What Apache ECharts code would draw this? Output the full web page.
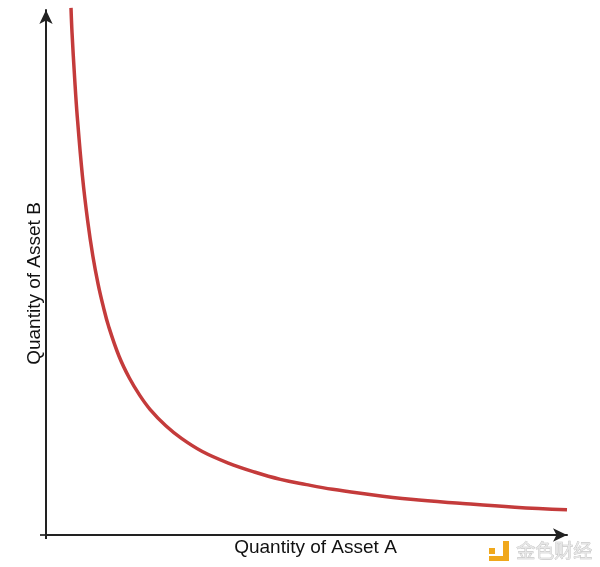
<!DOCTYPE html>
<html>
<head>
<meta charset="utf-8">
<script src="https://cdn.jsdelivr.net/npm/echarts@6/dist/echarts.min.js"></script>
<style>html,body{margin:0;padding:0;background:#fff;overflow:hidden}#c{width:600px;height:567px}</style>
</head>
<body>
<div id="c"></div>
<script>
// Quantity of asset A (x, 0..100) vs quantity of asset B (y, 0..100)
const assetA = [4.8, 5.0, 5.5, 6, 7, 8, 9, 10, 11, 12, 14, 16, 18, 20, 23, 26, 30, 35, 40, 45, 50, 55, 60, 70, 80, 90, 100];
const assetB = [100.4, 95.6, 87, 79.7, 68.3, 59.8, 53.1, 47.8, 43.5, 39.8, 34.1, 29.9, 26.6, 23.9, 20.8, 18.4, 15.9, 13.7, 12.0, 10.6, 9.6, 8.7, 8.0, 6.8, 6.0, 5.3, 4.8];
const xName = 'Quantity of Asset A';
const yName = 'Quantity of Asset B';
const watermark = '金色财经';

const chart = echarts.init(document.getElementById('c'));
const axisLine = {
  show: true,
  symbol: ['none', 'arrow'],
  symbolSize: [10, 14],
  lineStyle: { color: '#222', width: 2 }
};
chart.setOption({
  animation: false,
  backgroundColor: '#fff',
  grid: { left: 46, right: 33, top: 10, bottom: 32 },
  xAxis: {
    type: 'value', min: 0, max: 100,
    axisLine: axisLine, axisTick: { show: false }, axisLabel: { show: false }, splitLine: { show: false },
    name: xName, nameLocation: 'middle', nameGap: 3,
    nameTextStyle: { fontFamily: 'Liberation Sans, Arial', fontSize: 19, color: '#111', padding: [0, 0, 0, 18], verticalAlign: 'top' }
  },
  yAxis: {
    type: 'value', min: 0, max: 100,
    axisLine: axisLine, axisTick: { show: false }, axisLabel: { show: false }, splitLine: { show: false },
    name: yName, nameLocation: 'middle', nameGap: 2, nameRotate: 90,
    nameTextStyle: { fontFamily: 'Liberation Sans, Arial', fontSize: 19, color: '#111', padding: [0, 22, 0, 0], verticalAlign: 'bottom' }
  },
  series: [{
    type: 'line',
    data: assetA.map((a, i) => [a, assetB[i]]),
    smooth: 0.4,
    showSymbol: false,
    clip: false,
    lineStyle: { color: '#c43b3b', width: 3.5 }
  }],
  graphic: [
    { type: 'line', shape: { x1: 46, y1: 535, x2: 46, y2: 539 }, style: { stroke: '#222', lineWidth: 2 } },
    { type: 'line', shape: { x1: 40, y1: 535, x2: 46, y2: 535 }, style: { stroke: '#444', lineWidth: 2 } },
    { type: 'rect', left: 489, top: 548, shape: { width: 6, height: 6 }, style: { fill: '#f0a81c' } },
    { type: 'rect', left: 489, top: 556, shape: { width: 20, height: 5 }, style: { fill: '#f0a81c' } },
    { type: 'rect', left: 503, top: 541, shape: { width: 6, height: 20 }, style: { fill: '#f0a81c' } },
    { type: 'text', left: 516, top: 541, style: { text: watermark, font: '19px "Noto Sans CJK SC"', fill: '#e6e6e6', stroke: '#bdbdbd', lineWidth: 0.7 } }
  ]
});
</script>
</body>
</html>
